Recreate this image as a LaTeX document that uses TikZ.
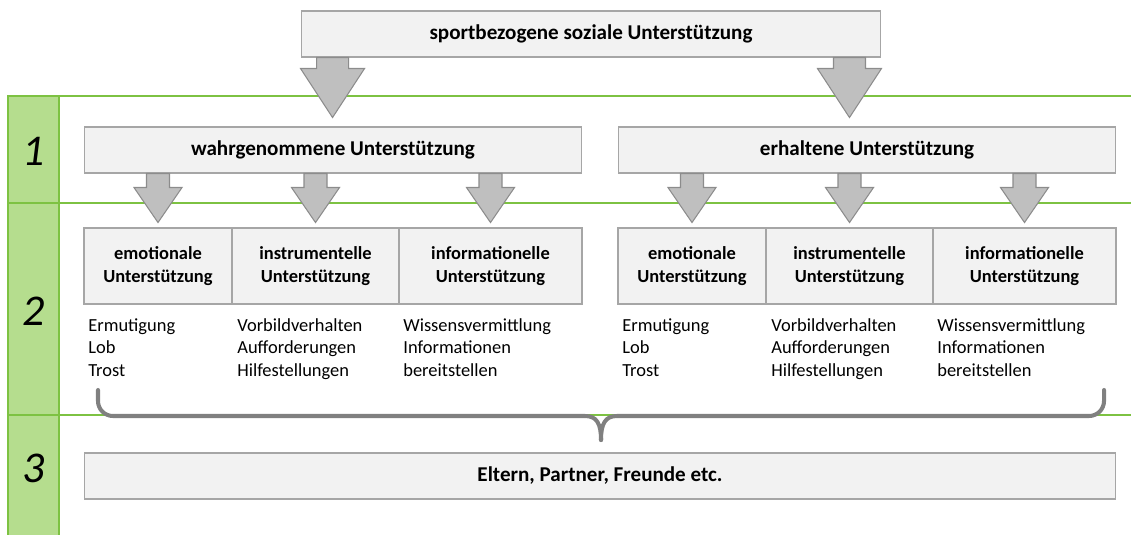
\documentclass[tikz,border=0pt]{standalone}
\usepackage{fontspec}
\setmainfont{Carlito}
\usetikzlibrary{calc}

\definecolor{rowgreen}{HTML}{7DC242}
\definecolor{cellgreen}{HTML}{B5DD8E}

\tikzset{
	graybox/.style={draw=black!35, fill=black!5, line width=0.6pt, inner sep=0pt, align=center, font=\bfseries\fontsize{10.5}{12.8}\selectfont},
	headbox/.style={graybox, minimum height=0.92cm, font=\bfseries\fontsize{12}{14}\selectfont},
	subbox/.style={graybox, minimum height=1.52cm},
	listtext/.style={anchor=north west, inner sep=0pt, align=left, font=\fontsize{10.5}{12.8}\selectfont},
	arrowbox/.style={draw=black!45, fill=black!25, line width=0.6pt},
	rowline/.style={draw=rowgreen, line width=1.1pt},
	rownum/.style={font=\itshape\fontsize{25}{29}\selectfont},
	bracket/.style={draw=black!50, line width=2.3pt, line cap=round, line join=round}
}

% block arrow: start, half shaft, shaft length, half head, head length
\newcommand{\blkarrow}[5]{\draw[arrowbox] #1 ++(-#2,0) -- ++(0,#3) -- ++(#2-#4,0) -- ++(#4,#5) -- ++(#4,-#5) -- ++(#2-#4,0) -- ++(0,-#3) -- cycle;}

\begin{document}
\begin{tikzpicture}[x=0.02cm, y=-0.02cm]
	\useasboundingbox (0,0) rectangle (1131,534);
	% rows
	\fill[cellgreen] (8,96) rectangle (59,540);
	\draw[rowline] (8,540) -- (8,96) -- (1131,96);
	\draw[rowline] (59,96) -- (59,540);
	\draw[rowline] (8,203) -- (1131,203);
	\draw[rowline] (8,415) -- (1131,415);
	\node[rownum] (n1) at (34,151) {1};
	\node[rownum] (n2) at (34,311) {2};
	\node[rownum] (n3) at (34,468) {3};
	% boxes
	\node[headbox, minimum width=11.6cm] (top) at (591,34) {sportbezogene soziale Unterstützung};
	\node[headbox, minimum width=9.96cm] (wahr) at (333,150) {wahrgenommene Unterstützung};
	\node[headbox, minimum width=9.96cm] (erh) at (867,150) {erhaltene Unterstützung};
	\node[subbox, minimum width=2.96cm] (emoL) at (158,266) {emotionale\\Unterstützung};
	\node[subbox, minimum width=3.34cm] (insL) at (315.5,266) {instrumentelle\\Unterstützung};
	\node[subbox, minimum width=3.66cm] (infL) at (490.5,266) {informationelle\\Unterstützung};
	\node[subbox, minimum width=2.96cm] (emoR) at (692,266) {emotionale\\Unterstützung};
	\node[subbox, minimum width=3.34cm] (insR) at (849.5,266) {instrumentelle\\Unterstützung};
	\node[subbox, minimum width=3.66cm] (infR) at (1024.5,266) {informationelle\\Unterstützung};
	\node[listtext] (emoLtxt) at (88,318) {Ermutigung\\Lob\\Trost};
	\node[listtext] (insLtxt) at (237,318) {Vorbildverhalten\\Aufforderungen\\Hilfestellungen};
	\node[listtext] (infLtxt) at (403,318) {Wissensvermittlung\\Informationen\\bereitstellen};
	\node[listtext] (emoRtxt) at (622,318) {Ermutigung\\Lob\\Trost};
	\node[listtext] (insRtxt) at (771,318) {Vorbildverhalten\\Aufforderungen\\Hilfestellungen};
	\node[listtext] (infRtxt) at (937,318) {Wissensvermittlung\\Informationen\\bereitstellen};
	\node[headbox, minimum width=20.64cm] (who) at (600,476) {Eltern, Partner, Freunde etc.};
	% arrows
	\blkarrow{($(top.south west)+(32,0)$)}{16}{11}{32}{49}
	\blkarrow{($(top.south east)+(-32,0)$)}{16}{11}{32}{49}
	\blkarrow{(wahr.south -| emoL.north)}{11.5}{14}{24}{35}
	\blkarrow{(wahr.south -| insL.north)}{11.5}{14}{24}{35}
	\blkarrow{(wahr.south -| infL.north)}{11.5}{14}{24}{35}
	\blkarrow{(erh.south -| emoR.north)}{11.5}{14}{24}{35}
	\blkarrow{(erh.south -| insR.north)}{11.5}{14}{24}{35}
	\blkarrow{(erh.south -| infR.north)}{11.5}{14}{24}{35}
	% bracket
	\draw[bracket, rounded corners=0.3cm] (98,390) -- (98,416) -- (585,416);
	\draw[bracket] (585,416) .. controls (597,416) and (601,424) .. (601,440);
	\draw[bracket] (617,416) .. controls (605,416) and (601,424) .. (601,440);
	\draw[bracket, rounded corners=0.3cm] (617,416) -- (1104,416) -- (1104,390);
\end{tikzpicture}
\end{document}
